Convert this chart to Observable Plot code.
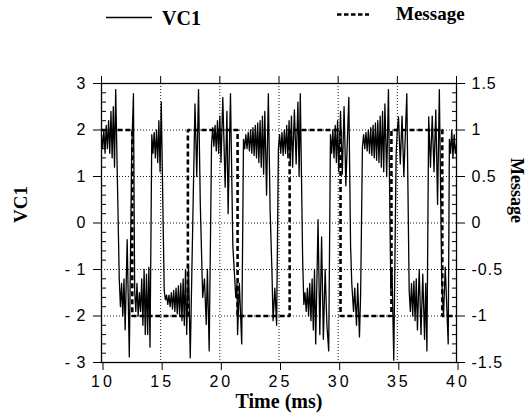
<!DOCTYPE html>
<html><head><meta charset="utf-8">
<script src="https://cdn.jsdelivr.net/npm/d3@7"></script>
<script src="https://cdn.jsdelivr.net/npm/@observablehq/plot@0.6"></script>
<style>
body{margin:0;background:#fff;width:528px;height:417px;overflow:hidden;}
#legend{display:block;}
#chart svg{display:block;}
g[aria-label="x-axis tick label"] text{letter-spacing:3px;}
g[aria-label="y-axis tick label"] text{letter-spacing:1px;}
</style></head>
<body>
<div id="legend"></div>
<div id="chart"></div>
<script>
// ---- data ----
const vcTime = [10.0,10.1,10.2,10.3,10.4,10.5,10.6,10.7,10.8,10.9,11.0,11.1,11.2,11.35,
11.5,11.6,11.7,11.8,11.9,12.0,12.17,12.35,12.55,12.7,
12.8,12.9,13.0,13.1,13.2,13.3,13.4,13.5,13.6,13.7,13.8,13.9,14.0,14.1,
14.25,14.35,14.45,14.55,14.65,14.75,14.85,14.95,15.05,
15.3,15.4,15.5,15.6,15.7,15.8,15.9,16.0,16.1,16.2,16.3,16.4,16.5,16.6,16.7,16.8,16.9,17.0,17.1,17.2,17.35,17.5,
17.9,18.05,18.2,18.35,
18.55,18.7,18.85,18.95,19.1,
19.3,19.4,19.5,19.6,19.7,19.8,19.9,20.0,20.1,20.25,20.45,20.6,20.7,20.9,
21.1,21.25,21.35,21.45,21.5,21.65,21.85,
22.0,22.1,22.2,22.3,22.4,22.5,22.6,22.7,22.8,22.9,23.0,23.1,23.2,23.3,23.4,23.5,23.6,23.7,23.8,23.95,24.1,24.25,
24.4,24.5,24.65,24.8,
24.95,25.05,25.15,25.25,25.35,25.45,25.55,25.65,25.75,25.85,25.95,26.05,26.15,26.3,26.45,26.6,26.7,26.8,
27.0,27.1,27.2,27.3,27.4,27.5,27.6,27.7,27.8,27.9,28.0,28.1,28.3,28.45,28.6,28.75,28.9,29.05,29.2,
29.35,29.45,29.55,29.65,29.75,29.85,29.95,30.05,30.2,30.35,30.5,30.65,30.9,
31.05,31.15,31.3,31.4,31.55,31.65,31.8,31.9,
32.05,32.15,32.25,32.35,32.45,32.55,32.65,32.75,32.85,32.95,33.05,33.15,33.25,33.35,33.45,33.55,33.65,33.75,33.85,33.95,34.1,34.25,
34.45,34.55,34.7,
34.9,35.0,35.1,35.25,35.4,35.55,35.8,
36.0,36.1,36.2,36.3,36.4,36.5,36.6,36.7,36.85,37.0,37.15,37.3,37.4,37.5,
37.65,37.8,37.95,38.1,38.25,38.4,38.55,
38.75,38.9,39.05,39.3,
39.4,39.5,39.6,39.7,39.8,39.9,40.0];
const vcValue = [1.9,1.6,2.0,1.5,2.1,1.6,2.2,1.5,2.4,1.4,2.5,1.2,2.87,0.84,
-1.2,-1.8,-1.3,-2.0,-1.2,-2.3,-0.36,-2.88,1.5,2.78,
-1.45,-1.9,-1.3,-2.0,-1.5,-1.9,-1.2,-2.2,-1.0,-2.4,-1.1,-2.4,-0.95,-2.67,
1.9,1.5,1.95,1.4,2.0,1.3,2.2,1.1,2.6,
-1.45,-1.65,-1.55,-1.75,-1.55,-1.8,-1.5,-1.85,-1.45,-1.9,-1.4,-1.95,-1.35,-2.0,-1.3,-2.1,-1.2,-2.2,-1.0,-2.4,-0.9,-2.9,
2.56,1.0,2.87,0.4,
-1.6,-1.2,-2.18,-1.0,-2.75,
1.7,2.05,1.65,2.1,1.55,2.2,1.5,2.3,1.3,2.7,0.77,2.4,0.2,2.78,
-0.5,-1.16,-1.6,-1.3,-2.4,-1.3,-2.6,
1.8,1.6,1.9,1.6,1.95,1.55,2.0,1.5,2.05,1.45,2.1,1.4,2.15,1.3,2.2,1.2,2.3,1.05,2.4,0.6,2.78,0.27,
-1.0,-2.1,-1.4,-2.2,
1.6,1.9,1.5,1.95,1.45,2.0,1.5,2.1,1.4,2.2,1.3,2.3,1.2,2.43,1.27,2.6,1.0,2.78,
-0.8,-1.75,-1.5,-1.9,-1.4,-2.0,-1.3,-2.1,-1.2,-2.3,-1.0,-2.6,0.07,-2.4,-0.3,-2.5,-1.0,-2.2,-2.75,
1.9,1.5,2.0,1.4,2.1,1.3,2.2,1.1,2.4,1.05,2.5,0.8,2.7,
-0.5,-1.3,-1.9,-1.4,-2.2,-1.3,-2.45,-1.5,
1.64,1.9,1.6,1.95,1.55,2.0,1.5,2.05,1.45,2.1,1.4,2.15,1.35,2.2,1.3,2.3,1.2,2.4,1.1,2.56,1.0,2.87,
-1.45,-1.0,-2.95,
1.5,2.0,2.28,1.27,2.3,1.0,2.78,
-1.45,-1.9,-1.3,-2.0,-1.25,-2.1,-1.2,-2.3,-1.0,-2.4,-1.1,-2.5,-1.3,-2.75,
2.28,1.2,2.3,1.1,2.43,0.4,2.87,
-1.2,-2.0,-0.95,-2.6,
1.8,1.5,2.0,1.4,1.9,1.5,1.7];

const msgTime  = [10, 12.6, 17.3, 21.5, 25.9, 30.2, 34.5, 38.8, 40];
const msgValue = [1, -1, 1, -1, 1, -1, 1, -1, -1];

const xTicks = [10, 15, 20, 25, 30, 35, 40];
const yTicks = [-3, -2, -1, 0, 1, 2, 3];
const yTickLabels = ["- 3", "- 2", "- 1", "0", "1", "2", "3"];
const rightTickLabels = ["-1.5", "-1", "-0.5", "0", "0.5", "1", "1.5"];
const yMinor = [-2.8,-2.6,-2.4,-2.2,-1.8,-1.6,-1.4,-1.2,-0.8,-0.6,-0.4,-0.2,0.2,0.4,0.6,0.8,1.2,1.4,1.6,1.8,2.2,2.4,2.6,2.8];
const msgToVC = 2; // right axis (Message) = left axis (VC1) / 2

// ---- legend ----
const serif = "'Liberation Serif','Times New Roman',serif";
const sans = "'Liberation Sans',Arial,sans-serif";
const leg = d3.select("#legend").append("svg").attr("width", 528).attr("height", 40);
leg.append("line").attr("x1", 106).attr("x2", 152).attr("y1", 17.5).attr("y2", 17.5)
  .attr("stroke", "#000").attr("stroke-width", 1.5);
leg.append("text").attr("x", 162).attr("y", 25).text("VC1")
  .style("font-family", serif).style("font-weight", "bold").style("font-size", "20px");
leg.append("line").attr("x1", 337).attr("x2", 369).attr("y1", 14.5).attr("y2", 14.5)
  .attr("stroke", "#000").attr("stroke-width", 2.5).attr("stroke-dasharray", "4.5,2.5");
leg.append("text").attr("x", 396).attr("y", 20).text("Message")
  .style("font-family", serif).style("font-weight", "bold").style("font-size", "19px");

// ---- chart ----
const vc = vcTime.map((t, i) => ({t, v: vcValue[i]}));
const msg = msgTime.map((t, i) => ({t, m: msgValue[i]}));
const gridStyle = {stroke: "#000", strokeOpacity: 0.9, strokeDasharray: "1,2"};

const chart = Plot.plot({
  width: 528, height: 377,
  marginLeft: 101, marginRight: 72, marginTop: 39, marginBottom: 59,
  style: {fontFamily: sans, fontSize: "16px", color: "#000", background: "#fff", overflow: "visible"},
  x: {domain: [10, 40]},
  y: {domain: [-3, 3]},
  marks: [
    Plot.gridX(xTicks.slice(1, -1), gridStyle),
    Plot.gridY(yTicks.slice(1, -1), gridStyle),
    Plot.line(vc, {x: "t", y: "v", stroke: "#000", strokeWidth: 1.3}),
    Plot.line(msg, {x: "t", y: d => d.m * msgToVC, curve: "step-after", stroke: "#000", strokeWidth: 2.6,
      strokeDasharray: "5,3", strokeLinecap: "butt", strokeLinejoin: "miter"}),
    Plot.frame({stroke: "#000", strokeWidth: 1.3}),
    Plot.axisX({anchor: "bottom", ticks: xTicks, tickSize: 8, tickPadding: 5, label: null, tickFormat: d => String(d), dx: 1.5}),
    Plot.axisX({anchor: "top", ticks: xTicks, tickSize: 8, label: null, tickFormat: () => ""}),
    Plot.axisY({anchor: "left", ticks: yTicks, tickSize: 8, tickPadding: 7, label: null, tickFormat: d => yTickLabels[yTicks.indexOf(d)]}),
    Plot.axisY({anchor: "left", ticks: yMinor, tickSize: 5, dx: 5, label: null, tickFormat: () => ""}),
    Plot.axisY({anchor: "right", ticks: yTicks, tickSize: 8, tickPadding: 7, label: null, tickFormat: d => rightTickLabels[yTicks.indexOf(d)]}),
    Plot.axisY({anchor: "right", ticks: yMinor, tickSize: 5, dx: -5, label: null, tickFormat: () => ""}),
    Plot.text(["Time (ms)"], {frameAnchor: "bottom", dy: 45, fontFamily: serif, fontWeight: "bold", fontSize: 20}),
    Plot.text(["VC1"], {frameAnchor: "left", dx: -81, rotate: -90, fontFamily: serif, fontWeight: "bold", fontSize: 19}),
    Plot.text(["Message"], {frameAnchor: "right", dx: 60, rotate: 90, fontFamily: serif, fontWeight: "bold", fontSize: 18})
  ]
});
document.getElementById("chart").appendChild(chart);
</script>
</body></html>
